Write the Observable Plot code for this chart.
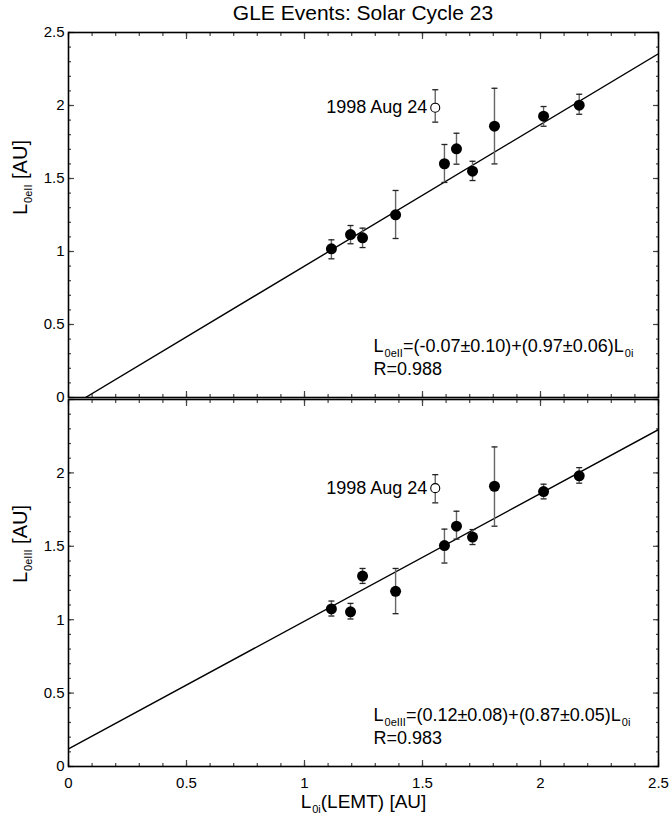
<!DOCTYPE html>
<html>
<head>
<meta charset="utf-8">
<script src="https://cdn.jsdelivr.net/npm/d3@7"></script>
<script src="https://cdn.jsdelivr.net/npm/@observablehq/plot@0.6"></script>
<style>
  body { margin: 0; background: #fff; }
  #wrap { position: relative; width: 670px; height: 825px; background: #fff; font-family: "Liberation Sans", Arial, Helvetica, sans-serif; color: #000; }
  #title { position: absolute; top: 0px; left: 68px; width: 590px; text-align: center; font-size: 21px; line-height: 26px; }
  #top { position: absolute; top: 22px; left: 0; z-index: 2; }
  #bottom { position: absolute; top: 397px; left: 0; z-index: 1; }
  svg { background: transparent !important; }
</style>
</head>
<body>
<div id="wrap">
  <div id="title">GLE Events: Solar Cycle 23</div>
  <div id="top"></div>
  <div id="bottom"></div>
</div>
<script>
// ---- data ----
const L0i      = [1.114, 1.195, 1.246, 1.386, 1.593, 1.644, 1.712, 1.805, 2.013, 2.164];
const L0eII    = [1.018, 1.116, 1.094, 1.251, 1.601, 1.703, 1.550, 1.858, 1.927, 2.002];
const L0eII_lo = [0.950, 1.053, 1.027, 1.089, 1.473, 1.598, 1.486, 1.600, 1.858, 1.940];
const L0eII_hi = [1.080, 1.178, 1.160, 1.418, 1.733, 1.810, 1.618, 2.118, 1.993, 2.077];
const L0eIII    = [1.073, 1.054, 1.297, 1.193, 1.505, 1.637, 1.563, 1.909, 1.873, 1.980];
const L0eIII_lo = [1.025, 1.005, 1.247, 1.041, 1.386, 1.549, 1.512, 1.637, 1.823, 1.930];
const L0eIII_hi = [1.127, 1.111, 1.349, 1.349, 1.617, 1.739, 1.614, 2.177, 1.923, 2.036];

// 1998 Aug 24 event (open symbol)
const aug24Label = ["1998 Aug 24"];
const aug24_L0i = [1.554];
const aug24_II = [1.985], aug24_II_lo = [1.886], aug24_II_hi = [2.108];
const aug24_III = [1.896], aug24_III_lo = [1.796], aug24_III_hi = [1.988];

// fitted lines (end points)
const fitII_x = [0.072, 2.5], fitII_y = [0, 2.355];
const fitIII_x = [0, 2.5],    fitIII_y = [0.12, 2.295];

// annotation texts
const eqII  = ["L_{0eII}=(-0.07±0.10)+(0.97±0.06)L_{0i}", "R=0.988"];
const eqIII = ["L_{0eIII}=(0.12±0.08)+(0.87±0.05)L_{0i}", "R=0.983"];

// ticks
const majorTicks = [0, 0.5, 1, 1.5, 2, 2.5];
const minorTicks = [0, 0.1, 0.2, 0.3, 0.4, 0.5, 0.6, 0.7, 0.8, 0.9, 1.0, 1.1, 1.2, 1.3, 1.4, 1.5, 1.6, 1.7, 1.8, 1.9, 2.0, 2.1, 2.2, 2.3, 2.4, 2.5];
const xTickLabels = ["0", "0.5", "1", "1.5", "2", "2.5"];
const yTickLabelsTop = ["0", "0.5", "1", "1.5", "2", "2.5"];
const yTickValsBottom = [0, 0.5, 1, 1.5, 2];
const yTickLabelsBottom = ["0", "0.5", "1", "1.5", "2"];

const xTitle = "L_{0i}(LEMT) [AU]";
const yTitleTop = "L_{0eII} [AU]";
const yTitleBottom = "L_{0eIII} [AU]";

// ---- helpers ----
const FONT = "Liberation Sans, Arial, Helvetica, sans-serif";
const capSymbol = { draw(ctx) { ctx.moveTo(-3, 0); ctx.lineTo(3, 0); } };
const blank = () => "";

function tickAxes() {
  const common = { tickFormat: blank, label: null, stroke: "#444", strokeWidth: 1.2 };
  return [
    Plot.axisX(minorTicks, { ...common, anchor: "bottom", tickSize: -3 }),
    Plot.axisX(minorTicks, { ...common, anchor: "top", tickSize: -3 }),
    Plot.axisX(majorTicks, { ...common, anchor: "bottom", tickSize: -6 }),
    Plot.axisX(majorTicks, { ...common, anchor: "top", tickSize: -6 }),
    Plot.axisY(minorTicks, { ...common, anchor: "left", tickSize: -3 }),
    Plot.axisY(minorTicks, { ...common, anchor: "right", tickSize: -3 }),
    Plot.axisY(majorTicks, { ...common, anchor: "left", tickSize: -6 }),
    Plot.axisY(majorTicks, { ...common, anchor: "right", tickSize: -6 })
  ];
}

function panelMarks(yv, lo, hi, aY, aLo, aHi, fx, fy, eq, yTitle, yTickVals, yTickLabels) {
  const rows = L0i.map((x, i) => ({ x, y: yv[i], lo: lo[i], hi: hi[i] }));
  const open = aug24_L0i.map((x, i) => ({ x, y: aY[i], lo: aLo[i], hi: aHi[i], label: aug24Label[i] }));
  const fit = fx.map((x, i) => ({ x, y: fy[i] }));
  return [
    ...tickAxes(),
    Plot.axisY(yTickVals, { anchor: "left", tickSize: 0, tickPadding: 4, tickFormat: (d) => yTickLabels[yTickVals.indexOf(d)], fontSize: 15, label: null }),
    Plot.line(fit, { x: "x", y: "y", stroke: "#000", strokeWidth: 1.4, clip: true }),
    Plot.ruleX(rows, { x: "x", y1: "lo", y2: "hi", stroke: "#666", strokeWidth: 1.4 }),
    Plot.dot(rows, { x: "x", y: "lo", symbol: capSymbol, stroke: "#222", strokeWidth: 1.3 }),
    Plot.dot(rows, { x: "x", y: "hi", symbol: capSymbol, stroke: "#222", strokeWidth: 1.3 }),
    Plot.dot(rows, { x: "x", y: "y", r: 5.5, fill: "#000", stroke: "none" }),
    Plot.ruleX(open, { x: "x", y1: "lo", y2: "hi", stroke: "#666", strokeWidth: 1.4 }),
    Plot.dot(open, { x: "x", y: "lo", symbol: capSymbol, stroke: "#222", strokeWidth: 1.3 }),
    Plot.dot(open, { x: "x", y: "hi", symbol: capSymbol, stroke: "#222", strokeWidth: 1.3 }),
    Plot.dot(open, { x: "x", y: "y", r: 4.5, fill: "#fff", stroke: "#000", strokeWidth: 1.1 }),
    Plot.text(open, { x: "x", y: "y", text: "label", textAnchor: "end", dx: -8, fontSize: 18 }),
    Plot.text([eq[0]], { frameAnchor: "bottom", textAnchor: "start", dx: 10, dy: -46, fontSize: 18 }),
    Plot.text([eq[1]], { frameAnchor: "bottom", textAnchor: "start", dx: 10, dy: -23, fontSize: 18 }),
    Plot.text([yTitle], { frameAnchor: "left", dx: -48, rotate: -90, fontSize: 20 }),
    Plot.frame({ stroke: "#000", strokeWidth: 1.6 })
  ];
}

function applySubscripts(svg) {
  d3.select(svg).selectAll("text").each(function () {
    const s = this.textContent;
    if (!s.includes("_{")) return;
    const el = d3.select(this);
    const big = parseFloat(el.attr("font-size")) || 18;
    el.text(null);
    const parts = s.split(/(_\{[^}]*\})/).filter(p => p);
    let inSub = false;
    for (const p of parts) {
      const t = el.append("tspan");
      if (p.startsWith("_{")) {
        t.text(p.slice(2, -1)).attr("font-size", Math.round(big * 0.62) + "px").attr("dy", "5").attr("dx", "1");
        inSub = true;
      } else {
        t.text(p);
        if (inSub) { t.attr("dy", "-5"); inSub = false; }
      }
    }
  });
}

const topPlot = Plot.plot({
  width: 670, height: 386,
  marginLeft: 68, marginRight: 12, marginTop: 10, marginBottom: 11,
  style: { fontFamily: FONT, fontSize: "15px", background: "transparent", color: "#000", overflow: "visible" },
  x: { domain: [0, 2.5] },
  y: { domain: [0, 2.5] },
  marks: panelMarks(L0eII, L0eII_lo, L0eII_hi, aug24_II, aug24_II_lo, aug24_II_hi, fitII_x, fitII_y, eqII, yTitleTop, majorTicks, yTickLabelsTop)
});
applySubscripts(topPlot);
document.getElementById("top").appendChild(topPlot);

const bottomPlot = Plot.plot({
  width: 670, height: 428,
  marginLeft: 68, marginRight: 12, marginTop: 2, marginBottom: 59,
  style: { fontFamily: FONT, fontSize: "15px", background: "transparent", color: "#000" },
  x: { domain: [0, 2.5] },
  y: { domain: [0, 2.5] },
  marks: [
    ...panelMarks(L0eIII, L0eIII_lo, L0eIII_hi, aug24_III, aug24_III_lo, aug24_III_hi, fitIII_x, fitIII_y, eqIII, yTitleBottom, yTickValsBottom, yTickLabelsBottom),
    Plot.axisX(majorTicks, { anchor: "bottom", tickSize: 0, tickPadding: 11, tickFormat: d => xTickLabels[majorTicks.indexOf(d)], fontSize: 15, label: null }),
    Plot.text([xTitle], { frameAnchor: "bottom", dy: 41, fontSize: 19 })
  ]
});
applySubscripts(bottomPlot);
document.getElementById("bottom").appendChild(bottomPlot);
</script>
</body>
</html>
